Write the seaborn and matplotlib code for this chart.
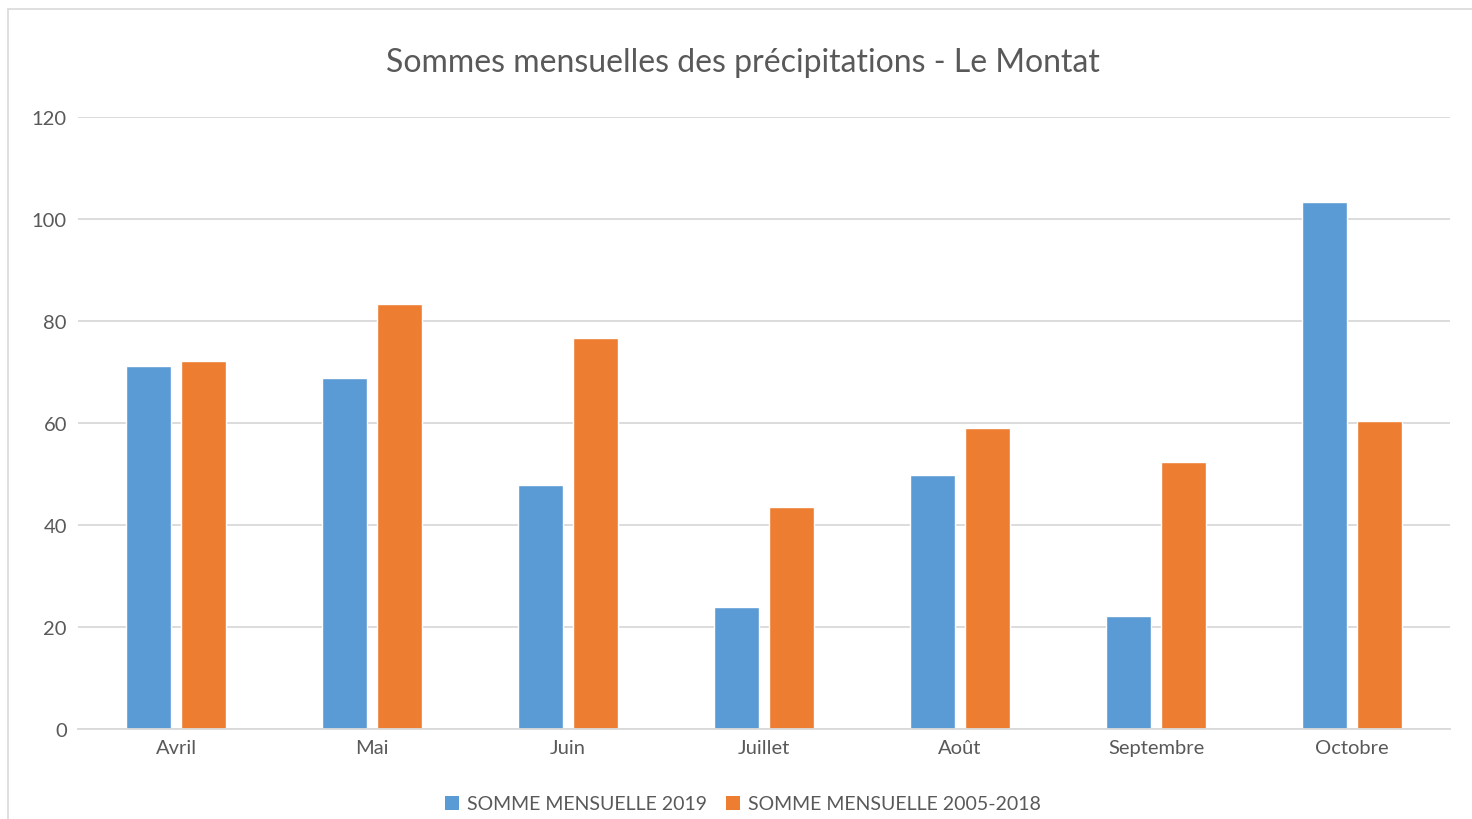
import matplotlib
matplotlib.use("Agg")
import matplotlib.pyplot as plt
import seaborn as sns
import pandas as pd
from matplotlib.patches import Rectangle, Patch

months = ["Avril", "Mai", "Juin", "Juillet", "Août", "Septembre", "Octobre"]
series_names = ["SOMME MENSUELLE 2019", "SOMME MENSUELLE 2005-2018"]
values_2019 = [71.2, 68.8, 47.8, 23.9, 49.9, 22.1, 103.3]
values_ref = [72.2, 83.3, 76.6, 43.6, 59.0, 52.3, 60.4]
yticks = [0, 20, 40, 60, 80, 100, 120]
title = "Sommes mensuelles des précipitations - Le Montat"

colors = ["#5B9BD5", "#ED7D31"]
text_col = "#595959"
grid_col = "#D9D9D9"

df = pd.DataFrame({
    "Mois": months * 2,
    "Série": [series_names[0]] * len(months) + [series_names[1]] * len(months),
    "Valeur": values_2019 + values_ref,
})

sns.set_theme(style="white")
plt.rcParams["font.family"] = ["Lato", "DejaVu Sans"]

fig = plt.figure(figsize=(14.72, 8.2), dpi=100)
ax = fig.add_axes([78 / 1472, 1 - 730 / 820, (1450 - 78) / 1472, (730 - 118) / 820])

sns.barplot(data=df, x="Mois", y="Valeur", hue="Série", order=months,
            hue_order=series_names, palette=colors, width=0.571, gap=0.196,
            saturation=1, ax=ax, legend=False)

ax.set_ylim(0, 120)
ax.set_xlim(-0.5, len(months) - 0.5)
ax.set_yticks(yticks)
ax.set_yticklabels([str(t) for t in yticks])
ax.set_xlabel("")
ax.set_ylabel("")
ax.yaxis.grid(True, color=grid_col, linewidth=1.3)
ax.set_axisbelow(True)
for s in ["top", "right", "left"]:
    ax.spines[s].set_visible(False)
ax.spines["bottom"].set_color(grid_col)
ax.spines["bottom"].set_linewidth(1.3)
ax.tick_params(axis="both", length=0, labelsize=14.5, colors=text_col)
ax.tick_params(axis="y", pad=8)
ax.tick_params(axis="x", pad=7)

fig.text(743 / 1472, 1 - 63 / 820, title, ha="center", va="center",
         fontsize=23, color=text_col)

handles = [Patch(facecolor=c, edgecolor="none") for c in colors]
fig.legend(handles, series_names, loc="center", bbox_to_anchor=(743 / 1472, 1 - 805 / 820),
           ncol=2, frameon=False, fontsize=14, labelcolor=text_col,
           handlelength=0.7, handleheight=0.7, handletextpad=0.4, columnspacing=1.0)

fig.patches.append(Rectangle((8 / 1472, -0.1), 1.2, 1.1 - 10 / 820 + 0.0,
                             transform=fig.transFigure, fill=False,
                             edgecolor="#D9D9D9", linewidth=1.2))

fig.savefig("out.png", dpi=100)
